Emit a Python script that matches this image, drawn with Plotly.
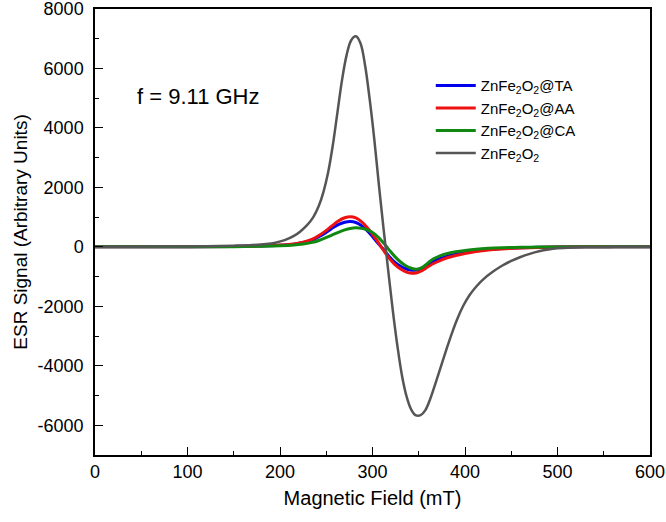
import plotly.graph_objects as go

# Gray: ZnFe2O2
x_gray = [0, 40, 80, 120, 150, 170, 185, 195, 205, 215, 222, 229, 236, 242, 247, 252, 257, 262, 267,
          272, 277, 282, 287, 292, 297, 302, 307, 312, 317, 322, 327, 332, 337, 342, 347, 352, 357,
          362, 368, 374, 380, 386, 392, 398, 405, 412, 420, 430, 440, 450, 460, 470, 480, 490, 500,
          515, 530, 560, 600]
y_gray = [0, 5, 12, 22, 40, 60, 95, 140, 225, 370, 520, 720, 1000, 1380, 1850, 2500, 3400, 4500, 5600,
          6450, 6950, 7080, 6850, 6100, 4950, 3600, 2050, 600, -800, -2150, -3350, -4350, -5050, -5480,
          -5670, -5660, -5500, -5150, -4600, -4020, -3440, -2890, -2400, -1990, -1620, -1340, -1085,
          -840, -635, -472, -340, -235, -150, -90, -50, -20, -8, 0, 0]

# Blue: ZnFe2O2@TA
x_ta = [0, 100, 150, 180, 200, 215, 225, 235, 242, 249, 256, 263, 270, 276, 282, 288, 294, 300, 306,
        312, 318, 324, 330, 336, 342, 348, 354, 360, 366, 373, 380, 390, 400, 412, 425, 440, 460, 480,
        500, 530, 600]
y_ta = [0, 5, 14, 32, 55, 92, 145, 235, 340, 470, 620, 750, 830, 852, 820, 715, 555, 350, 120,
        -90, -320, -510, -645, -735, -785, -775, -700, -590, -485, -395, -320, -245, -185, -130, -88,
        -58, -32, -15, -6, 0, 0]

# Red: ZnFe2O2@AA
x_aa = [0, 100, 150, 180, 200, 215, 225, 235, 242, 249, 256, 263, 270, 276, 282, 288, 294, 300, 306,
        312, 318, 324, 330, 336, 342, 348, 354, 360, 366, 373, 380, 390, 400, 412, 425, 440, 460, 480,
        500, 530, 600]
y_aa = [0, 5, 15, 35, 60, 100, 160, 260, 380, 530, 700, 870, 980, 1015, 975, 850, 660, 420, 160,
        -120, -380, -590, -740, -840, -890, -870, -790, -670, -560, -460, -375, -290, -220, -155, -105,
        -70, -38, -18, -8, 0, 0]

# Green: ZnFe2O2@CA
x_ca = [0, 100, 150, 180, 200, 215, 225, 235, 242, 249, 256, 263, 270, 276, 282, 288, 294, 300, 306,
        312, 318, 324, 330, 336, 342, 348, 354, 360, 366, 373, 380, 390, 400, 412, 425, 440, 460, 480,
        500, 530, 600]
y_ca = [0, 3, 8, 20, 35, 60, 95, 150, 215, 300, 395, 490, 570, 620, 640, 625, 575, 480, 330,
        130, -100, -320, -500, -635, -720, -750, -690, -540, -400, -300, -230, -165, -120, -78, -50,
        -30, -15, -7, -3, 0, 0]

names = ["ZnFe<sub>2</sub>O<sub>2</sub>@TA", "ZnFe<sub>2</sub>O<sub>2</sub>@AA",
         "ZnFe<sub>2</sub>O<sub>2</sub>@CA", "ZnFe<sub>2</sub>O<sub>2</sub>"]
colors = ["#0000ee", "#ee1111", "#118811", "#555555"]
widths = [3, 3, 3, 2.5]
series = [(x_ta, y_ta), (x_aa, y_aa), (x_ca, y_ca), (x_gray, y_gray)]

x_ticks = [0, 100, 200, 300, 400, 500, 600]
y_ticks = [-6000, -4000, -2000, 0, 2000, 4000, 6000, 8000]

fig = go.Figure()
for (xs, ys), n, c, w in zip(series, names, colors, widths):
    fig.add_trace(go.Scatter(x=xs, y=ys, name=n, mode="lines",
                             line=dict(color=c, width=w, shape="spline", smoothing=1.0)))

font_family = "Arial, Liberation Sans, sans-serif"
fig.update_layout(
    width=666, height=522,
    margin=dict(l=95, r=16, t=9, b=67, autoexpand=False),
    paper_bgcolor="white", plot_bgcolor="white",
    font=dict(family=font_family, color="black", size=18),
    showlegend=True,
    legend=dict(x=0.605, y=0.865, xanchor="left", yanchor="top",
                bgcolor="rgba(0,0,0,0)", font=dict(size=15), tracegroupgap=0,
                itemwidth=40),
    xaxis=dict(range=[0, 600], tickvals=x_ticks, ticktext=[str(v) for v in x_ticks],
               automargin=False, ticklabeloverflow="allow",
               ticks="inside", ticklen=8, tickwidth=1.3, tickcolor="black",
               minor=dict(ticks="inside", ticklen=4, tickwidth=1.3, dtick=50, tickcolor="black"),
               showline=True, linecolor="black", linewidth=1.5, mirror=True,
               showgrid=False, zeroline=False,
               title=dict(text="Magnetic Field (mT)", font=dict(size=20), standoff=10)),
    yaxis=dict(range=[-7000, 8000], tickvals=y_ticks, ticktext=[str(v) for v in y_ticks],
               automargin=False, ticklabeloverflow="allow",
               ticks="inside", ticklen=8, tickwidth=1.3, tickcolor="black",
               minor=dict(ticks="inside", ticklen=4, tickwidth=1.3, dtick=1000, tickcolor="black"),
               showline=True, linecolor="black", linewidth=1.5, mirror=True,
               showgrid=False, zeroline=False, ticklabelstandoff=6,
               title=dict(text="ESR Signal (Arbitrary Units)", font=dict(size=19), standoff=5)),
    annotations=[dict(text="f = 9.11 GHz", x=0.072, y=0.803, xref="paper", yref="paper",
                      xanchor="left", yanchor="middle", showarrow=False,
                      font=dict(size=22, family=font_family))],
)

fig.write_html("out.html")
